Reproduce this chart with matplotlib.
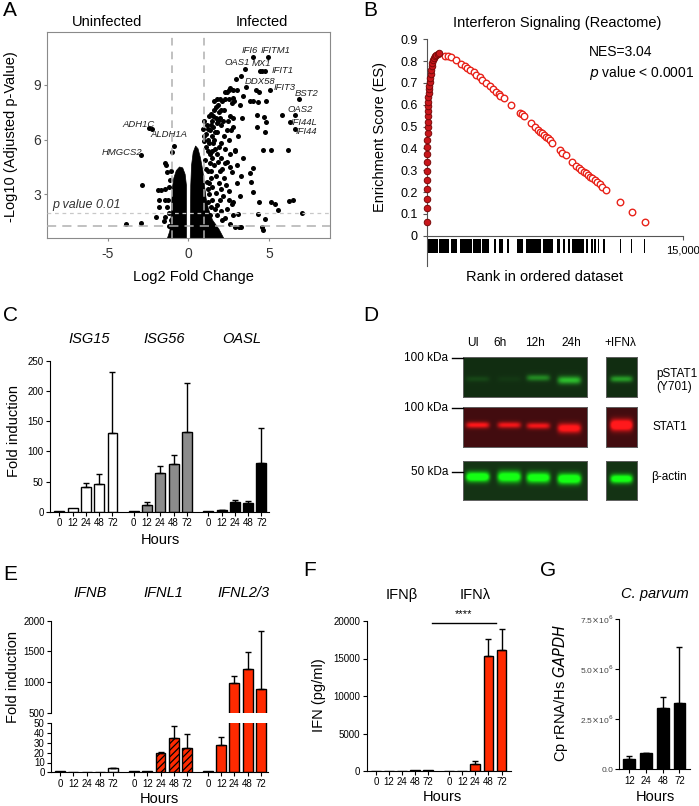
import numpy as np
import matplotlib.pyplot as plt
from matplotlib.lines import Line2D

plt.rcParams['font.family'] = ['Liberation Sans', 'DejaVu Sans']
plt.rcParams['axes.unicode_minus'] = False
plt.rcParams['hatch.linewidth'] = 0.9

# ---------------- data ----------------
# A: volcano plot (dense cores drawn as outlines, the rest as points)
core_right = [(0.12, 0.6), (0.15, 3.5), (0.2, 4.6), (0.3, 5.3), (0.45, 5.65), (0.6, 5.5), (0.75, 5.0),
              (0.9, 4.3), (1.0, 3.5), (1.1, 2.8), (1.25, 2.2), (1.5, 1.6), (1.9, 1.1), (2.2, 0.6)]
core_left = [(-0.12, 0.6), (-0.12, 3.5), (-0.2, 4.1), (-0.35, 4.45), (-0.55, 4.5), (-0.75, 4.3),
             (-0.9, 3.9), (-1.0, 3.3), (-1.05, 2.0), (-1.15, 1.0), (-1.3, 0.6)]
up_pts = [(1.0, 5.9), (1.1, 6.3), (1.15, 6.8), (1.3, 7.3), (1.4, 7.4), (1.2, 6.6), (1.5, 7.0), (1.6, 7.6),
          (1.7, 7.8), (1.8, 8.2), (1.95, 8.2), (2.1, 8.1), (2.3, 8.2), (2.4, 8.6), (2.5, 8.7), (2.6, 8.8),
          (2.75, 8.7), (2.8, 8.3), (2.85, 8.1), (2.3, 8.6), (2.2, 7.6), (1.9, 7.5), (1.7, 7.2), (1.55, 6.7),
          (1.45, 6.2), (1.3, 5.8), (1.2, 5.4), (1.6, 6.0), (1.8, 6.4), (2.0, 6.8), (2.15, 7.0), (1.9, 5.6),
          (1.75, 5.2), (1.5, 5.0), (1.35, 4.7), (1.25, 4.3), (1.6, 4.6), (2.0, 5.0), (2.3, 5.5), (2.5, 6.0),
          (2.2, 6.2), (1.4, 3.9), (1.7, 4.0), (2.1, 4.4), (2.4, 4.8), (1.5, 3.4), (1.9, 3.6), (2.2, 3.9),
          (1.3, 3.0), (1.7, 3.1), (2.0, 3.3), (1.2, 2.6), (1.5, 2.7), (1.8, 2.4), (2.5, 3.2), (2.4, 2.2),
          (2.1, 1.6), (2.3, 1.7), (2.6, 1.4), (2.9, 1.2), (2.8, 2.6), (3.2, 2.9), (2.7, 4.2), (3.0, 4.6),
          (2.9, 5.4), (3.1, 6.2), (2.8, 6.7), (2.6, 7.3), (2.5, 8.2), (2.7, 8.0), (3.0, 8.7),
          (1.05, 4.9), (1.1, 4.4), (1.15, 3.7), (1.2, 3.3), (1.3, 3.6), (1.4, 4.3), (1.45, 5.4), (1.35, 5.2),
          (1.25, 6.0), (1.1, 5.6), (1.65, 5.5), (1.55, 5.8), (1.65, 6.4), (1.75, 6.9), (1.85, 7.0),
          (1.95, 7.2), (2.05, 7.6), (1.85, 7.9), (1.6, 8.1), (1.55, 7.3), (1.4, 6.8), (1.35, 6.5),
          (1.85, 4.8), (1.95, 4.3), (2.25, 4.7), (2.6, 5.2), (2.6, 4.5), (2.35, 3.5), (2.15, 2.9),
          (1.95, 2.7), (1.65, 2.2), (1.4, 2.3), (1.35, 1.9), (1.75, 1.9), (2.0, 2.1), (2.75, 1.9),
          (2.55, 2.7), (3.0, 3.6), (3.3, 4.0), (3.4, 5.0), (3.2, 7.9), (3.4, 8.4), (2.45, 7.0), (2.65, 6.5),
          (2.05, 5.8), (2.4, 6.5), (1.0, 7.0), (0.95, 6.2), (0.9, 6.6),
          (2.96, 9.33), (3.25, 9.5), (3.5, 9.86), (4.04, 10.52), (4.95, 10.52), (4.47, 9.77), (4.76, 9.77),
          (4.6, 9.77), (3.6, 8.87), (4.2, 8.7), (4.4, 8.6), (5.07, 8.73), (3.85, 8.1), (4.0, 8.1), (4.3, 8.08),
          (4.8, 8.1), (6.85, 8.21), (2.75, 7.17), (3.33, 7.17), (4.26, 7.35), (4.72, 7.26), (4.82, 6.98),
          (5.82, 7.35), (6.65, 7.37), (6.31, 6.98), (6.65, 6.58), (4.24, 6.67), (4.74, 6.40), (6.19, 5.43),
          (4.62, 5.43), (5.16, 5.43), (2.92, 5.43), (4.04, 4.42), (3.83, 4.15), (3.89, 3.69), (4.04, 3.12),
          (4.37, 2.59), (5.13, 2.59), (5.40, 2.46), (5.57, 2.17), (6.27, 2.64), (6.48, 2.68), (7.06, 2.00),
          (4.31, 1.95), (4.76, 1.67), (3.06, 1.95), (2.71, 2.50), (3.17, 1.22), (4.58, 1.22), (4.62, 1.05),
          (3.3, 1.2)]
down_pts = [(-0.87, 5.67), (-1.01, 5.3), (-1.43, 4.73), (-1.39, 4.6), (-1.35, 4.24), (-1.9, 3.23),
            (-1.7, 3.25), (-1.43, 3.27), (-1.84, 2.72), (-1.43, 2.69), (-1.8, 2.3), (-1.35, 2.3),
            (-2.0, 1.76), (-1.43, 1.76), (-1.5, 1.54), (-1.22, 1.3), (-1.15, 3.8), (-1.2, 2.0),
            (-1.1, 4.3), (-1.2, 3.4), (-1.25, 2.7), (-1.1, 1.6),
            (-2.42, 6.66), (-2.26, 6.60), (-2.96, 5.17), (-2.88, 3.49), (-3.87, 1.40), (-2.96, 1.44)]
gene_names = ['IFI6', 'IFITM1', 'OAS1', 'MX1', 'IFIT1', 'DDX58', 'IFIT3', 'BST2', 'OAS2', 'IFI44L',
              'IFI44', 'ADH1C', 'ALDH1A', 'HMGCS2']
gene_lx = [3.83, 5.40, 3.02, 4.55, 5.86, 4.47, 5.96, 7.35, 6.96, 7.2, 7.35, -3.11, -1.18, -4.14]
gene_ly = [10.87, 10.87, 10.23, 10.14, 9.79, 9.15, 8.85, 8.5, 7.66, 6.93, 6.42, 6.84, 6.29, 5.28]

# B: GSEA running enrichment score
es_fill_rank = [0, 20, 20, 20, 20, 20, 20, 20, 20, 20, 39, 39, 39, 59, 59, 59, 78, 78, 98, 117, 137,
                156, 176, 215, 234, 273, 312, 352, 410, 469, 547, 644, 703]
es_fill_val = [0.064, 0.125, 0.168, 0.212, 0.255, 0.298, 0.336, 0.374, 0.408, 0.439, 0.469, 0.497,
               0.523, 0.549, 0.572, 0.594, 0.614, 0.634, 0.653, 0.671, 0.686, 0.706, 0.721, 0.741,
               0.759, 0.778, 0.793, 0.805, 0.816, 0.824, 0.830, 0.834, 0.836]
es_open_rank = [1035, 1230, 1426, 1680, 2012, 2207, 2344, 2539, 2734, 2890, 3086, 3242, 3437, 3672,
                3867, 4062, 4218, 4297, 4492, 4941, 5468, 5586, 5664, 6113, 6308, 6503, 6601, 6757,
                6875, 6992, 7109, 7187, 7343, 7812, 7929, 8125, 8515, 8750, 8906, 9042, 9179, 9335,
                9433, 9570, 9687, 9824, 9960, 10117, 10273, 10507, 11327, 12030, 12753]
es_open_val = [0.825, 0.824, 0.821, 0.805, 0.787, 0.779, 0.770, 0.759, 0.749, 0.738, 0.726, 0.714,
               0.701, 0.686, 0.672, 0.660, 0.649, 0.642, 0.630, 0.597, 0.564, 0.556, 0.549, 0.515,
               0.500, 0.484, 0.477, 0.469, 0.461, 0.454, 0.446, 0.439, 0.423, 0.393, 0.380, 0.370,
               0.339, 0.321, 0.312, 0.301, 0.293, 0.286, 0.278, 0.270, 0.263, 0.255, 0.248, 0.235,
               0.225, 0.209, 0.153, 0.107, 0.064]
rug_start = [0, 720, 1420, 1650, 1950, 2700, 3250, 3900, 4200, 4700, 5300, 5800, 6800, 7600,
             7950, 8250, 8500, 9300, 9600, 9800, 10000, 10300, 11280, 11950, 12720]
rug_width = [660, 580, 260, 130, 700, 450, 400, 150, 250, 100, 350, 900, 600, 200,
             150, 150, 700, 150, 100, 100, 100, 150, 70, 70, 80]

# C: ISG fold induction
hours = ['0', '12', '24', '48', '72']
isg15_mean = [1, 6, 41, 46, 130]
isg15_sd = [0, 0, 6, 16, 101]
isg56_mean = [1, 11, 65, 79, 133]
isg56_sd = [0, 5, 11, 15, 80]
oasl_mean = [1, 2, 15.5, 14, 80]
oasl_sd = [0, 0.8, 4, 3, 59]

# D: western blot band intensities (UI, 6h, 12h, 24h) and +IFN lambda lane
pstat1_int = [0.12, 0.05, 0.45, 0.7]
pstat1_ifn = 0.55
stat1_int = [0.8, 0.75, 0.75, 0.95]
stat1_ifn = 1.2
actin_int = [1.2, 1.1, 1.1, 1.2]
actin_ifn = 1.1

# E: IFN transcripts
ifnb_mean = [1, 0.5, 0.5, 0.8, 4]
ifnb_sd = [0, 0, 0, 0, 0.5]
ifnl1_mean = [1, 1, 20, 34.7, 24.5]
ifnl1_sd = [0, 0, 1.2, 13, 14.5]
ifnl23_mean = [1, 27.9, 979, 1207, 881]
ifnl23_sd = [0, 8.5, 124, 278, 956]

# F: secreted IFN (pg/ml)
ifnb_pg = [0, 0, 0, 150, 150]
ifnb_pg_sd = [0, 0, 0, 0, 0]
ifnl_pg = [50, 0, 930, 15370, 16130]
ifnl_pg_sd = [0, 0, 360, 2190, 2760]

# G: C. parvum load
cp_hours = ['12', '24', '48', '72']
cp_mean = [0.5e6, 0.8e6, 3.08e6, 3.3e6]
cp_sd = [0.17e6, 0.03e6, 0.52e6, 2.83e6]

RED = '#ff2a00'

# ---------------- figure ----------------
W, H = 699, 806
fig = plt.figure(figsize=(W / 100, H / 100), dpi=100)


def px_axes(l, t, r, b):
    return fig.add_axes([l / W, 1 - b / H, (r - l) / W, (b - t) / H])


def ptext(x, y, s, **kw):
    kw.setdefault('ha', 'center')
    kw.setdefault('va', 'center')
    fig.text(x / W, 1 - y / H, s, **kw)


def bars(ax, x0, vals, sds, color, hatch=None, width=0.75):
    xs = [x0 + i for i in range(len(vals))]
    ax.bar(xs, vals, width=width, color=color, edgecolor='black', lw=1, hatch=hatch, zorder=2)
    ex = [x for x, s in zip(xs, sds) if s > 0]
    ev = [v for v, s in zip(vals, sds) if s > 0]
    es = [s for s in sds if s > 0]
    if ex:
        ax.errorbar(ex, ev, yerr=[[0] * len(es), es], fmt='none', ecolor='black',
                    elinewidth=1, capsize=2.5, capthick=1, zorder=3)
    return xs


def simple_axes(ax):
    ax.spines['top'].set_visible(False)
    ax.spines['right'].set_visible(False)
    ax.tick_params(labelsize=7, length=3, width=0.8, pad=1.5)


# ---- A ----
ax = px_axes(46.7, 31.7, 330, 238.3)
ax.fill(*zip(*core_left), color='black', lw=0.5, zorder=2)
ax.fill(*zip(*core_right), color='black', lw=0.5, zorder=2)
ax.scatter(*zip(*up_pts), s=13, c='black', lw=0, zorder=3)
ax.scatter(*zip(*down_pts), s=13, c='black', lw=0, zorder=3)
for xv in (-1, 1):
    ax.axvline(xv, color='#b0b0b0', ls=(0, (5, 4)), lw=1.1, zorder=4)
ax.axhline(2, color='#c8c8c8', ls=(0, (3, 3)), lw=0.9, zorder=4)
ax.axhline(1.3, color='#b0b0b0', ls=(0, (6, 4)), lw=1.1, zorder=4)
for n, gx, gy in zip(gene_names, gene_lx, gene_ly):
    ax.text(gx, gy, n, fontsize=6.8, style='italic', color='#222222', ha='center', va='center')
ax.text(-8.45, 2.12, 'p value 0.01', fontsize=9, style='italic', color='#333333', va='bottom')
ax.set_xlim(-8.8, 8.8)
ax.set_ylim(0.6, 11.9)
ax.set_xticks([-5, 0, 5])
ax.set_yticks([3, 6, 9])
for s in ax.spines.values():
    s.set_color('#8a8a8a')
ax.tick_params(colors='#8a8a8a', labelcolor='#333333', labelsize=10, length=2.5)
ax.tick_params(axis='x', pad=4)
ax.tick_params(axis='y', pad=1.5)
ptext(107, 22, 'Uninfected', fontsize=10.5)
ptext(262, 22, 'Infected', fontsize=10.5)
ptext(193, 277, 'Log2 Fold Change', fontsize=10.5)
ptext(11, 137, '-Log10 (Adjusted p-Value)', fontsize=10.5, rotation=90)

# ---- B ----
ax = px_axes(427, 39.3, 683, 266.2)
ax.set_xlim(0, 15000)
ax.set_ylim(-0.14, 0.9)
ax.broken_barh(list(zip(rug_start, rug_width)), (-0.081, 0.064), facecolors='black')
ax.scatter(es_open_rank, es_open_val, s=22, facecolor='white', edgecolor='#e8231a', lw=1, zorder=3)
ax.scatter(es_fill_rank, es_fill_val, s=22, facecolor='#c8161b', edgecolor='#7a0a0a', lw=0.7,
           zorder=4, clip_on=False)
ax.spines['top'].set_visible(False)
ax.spines['right'].set_visible(False)
ax.spines['bottom'].set_position(('data', 0))
ax.spines['bottom'].set_color('#555555')
ax.spines['left'].set_color('#555555')
ax.set_yticks([0, 0.1, 0.2, 0.3, 0.4, 0.5, 0.6, 0.7, 0.8, 0.9],
              ['0', '0.1', '0.2', '0.3', '0.4', '0.5', '0.6', '0.7', '0.8', '0.9'])
ax.set_xticks([15000], ['15,000'])
ax.tick_params(labelsize=9, length=3, color='#555555')
ax.tick_params(axis='x', labelsize=8, pad=4)
ptext(557, 22.5, 'Interferon Signaling (Reactome)', fontsize=10.5)
ptext(589, 52, 'NES=3.04', fontsize=10, ha='left')
ptext(589, 73, '$p$ value < 0.0001', fontsize=10, ha='left')
ptext(545, 277, 'Rank in ordered dataset', fontsize=10.5)
ptext(380, 137, 'Enrichment Score (ES)', fontsize=10.5, rotation=90)

# ---- C ----
ax = px_axes(50, 361, 269, 511.7)
ticks, labels = [], []
for g, (m, sd, col) in enumerate([(isg15_mean, isg15_sd, 'white'), (isg56_mean, isg56_sd, '#8c8c8c'),
                                  (oasl_mean, oasl_sd, 'black')]):
    ticks += bars(ax, g * 5.6, m, sd, col)
    labels += hours
ax.set_xlim(-0.7, 15.77)
ax.set_ylim(0, 250)
ax.set_xticks(ticks, labels)
ax.set_yticks([0, 50, 100, 150, 200, 250])
simple_axes(ax)
ptext(89, 339, 'ISG15', fontsize=10.5, style='italic')
ptext(164, 339, 'ISG56', fontsize=10.5, style='italic')
ptext(242, 339, 'OASL', fontsize=10.5, style='italic')
ptext(14, 431, 'Fold induction', fontsize=10.5, rotation=90)
ptext(160, 540, 'Hours', fontsize=10.5)

# ---- D ----
def blot(l, t, r, b, centers, ys, hs, ints, half, bg, glow):
    bax = px_axes(l, t, r, b)
    yy = np.linspace(0, 1, 80)[:, None]
    xx = np.linspace(0, 1, 240)[None, :]
    sig = np.zeros((80, 240))
    for c, y0, hh, a in zip(centers, ys, hs, ints):
        sig += a * np.exp(-((yy - y0) / hh) ** 2) * np.exp(-((xx - c) / half) ** 6)
    img = np.array(bg)[None, None, :] + np.clip(sig, 0, 1)[..., None] * np.array(glow)[None, None, :]
    bax.imshow(np.clip(img, 0, 1), aspect='auto', interpolation='bilinear')
    bax.set_xticks([])
    bax.set_yticks([])
    for s in bax.spines.values():
        s.set_color('#606060')
        s.set_linewidth(0.7)


lanes = [0.117, 0.373, 0.608, 0.859]
green_bg, green_glow = (0.07, 0.18, 0.07), (0.15, 0.8, 0.15)
red_bg, red_glow = (0.26, 0.05, 0.06), (0.95, 0.05, 0.05)
act_bg, act_glow = (0.08, 0.2, 0.08), (0.0, 0.95, 0.0)
blot(463.3, 356.7, 586.7, 396.7, lanes, [0.55, 0.55, 0.52, 0.58], [0.07, 0.07, 0.08, 0.1],
     pstat1_int, 0.095, green_bg, green_glow)
blot(606, 356.7, 636.7, 396.7, [0.5], [0.55], [0.08], [pstat1_ifn], 0.36, green_bg, green_glow)
blot(463.3, 407.3, 586.7, 446.7, lanes, [0.45, 0.45, 0.47, 0.53], [0.08, 0.08, 0.08, 0.12],
     stat1_int, 0.095, red_bg, red_glow)
blot(606, 407.3, 636.7, 446.7, [0.5], [0.45], [0.14], [stat1_ifn], 0.36, red_bg, red_glow)
blot(463.3, 460.7, 586.7, 500, lanes, [0.42, 0.42, 0.44, 0.47], [0.12, 0.14, 0.13, 0.13],
     actin_int, 0.095, act_bg, act_glow)
blot(606, 460.7, 636.7, 500, [0.5], [0.47], [0.11], [actin_ifn], 0.36, act_bg, act_glow)
for lx, ln in zip([473, 500, 535, 571.7, 620], ['UI', '6h', '12h', '24h', '+IFNλ']):
    ptext(lx, 343, ln, fontsize=8.5)
for ky, kl in zip([357.5, 408.3, 471.7], ['100 kDa', '100 kDa', '50 kDa']):
    ptext(448, ky, kl, fontsize=8.5, ha='right')
    fig.add_artist(Line2D([451.7 / W, 463.3 / W], [1 - ky / H, 1 - ky / H], color='black', lw=1))
ptext(656.7, 374, 'pSTAT1', fontsize=8.5, ha='left')
ptext(656.7, 387, '(Y701)', fontsize=8.5, ha='left')
ptext(670, 426.5, 'STAT1', fontsize=8.5)
ptext(669, 477, 'β-actin', fontsize=8.5)

# ---- E (broken axis) ----
lo = px_axes(51, 723.3, 268.3, 772.3)
hi = px_axes(51, 620.7, 268.3, 712.7)
groups = [(ifnb_mean, ifnb_sd, 'white', None), (ifnl1_mean, ifnl1_sd, RED, '/////'),
          (ifnl23_mean, ifnl23_sd, RED, None)]
ticks, labels = [], []
for g, (m, sd, col, hat) in enumerate(groups):
    ticks += bars(lo, g * 5.6, m, sd, col, hatch=hat)
    bars(hi, g * 5.6, m, sd, col, hatch=hat)
    labels += hours
for a in (lo, hi):
    a.set_xlim(-0.7, 15.77)
    simple_axes(a)
lo.set_ylim(0, 50)
lo.set_yticks([0, 10, 20, 30, 40, 50])
lo.set_xticks(ticks, labels)
hi.set_ylim(500, 2000)
hi.set_yticks([500, 1000, 1500, 2000])
hi.spines['bottom'].set_visible(False)
hi.set_xticks([])
ptext(90, 593, 'IFNB', fontsize=10.5, style='italic')
ptext(163, 593, 'IFNL1', fontsize=10.5, style='italic')
ptext(243, 593, 'IFNL2/3', fontsize=10.5, style='italic')
ptext(13, 677, 'Fold induction', fontsize=10.5, rotation=90)
ptext(159, 799, 'Hours', fontsize=10.5)

# ---- F ----
ax = px_axes(366.7, 621, 510.7, 771)
ticks = bars(ax, 0, ifnb_pg, ifnb_pg_sd, RED) + bars(ax, 5.6, ifnl_pg, ifnl_pg_sd, RED)
ax.set_xlim(-0.7, 10.3)
ax.set_ylim(0, 20000)
ax.set_xticks(ticks, hours + hours)
ax.set_yticks([0, 5000, 10000, 15000, 20000])
simple_axes(ax)
ax.plot([4.25, 9.2], [19800, 19800], color='black', lw=1, clip_on=False)
ax.text(6.7, 20300, '****', ha='center', va='bottom', fontsize=8)
ptext(402, 595, 'IFNβ', fontsize=10.5)
ptext(475, 595, 'IFNλ', fontsize=10.5)
ptext(319, 695, 'IFN (pg/ml)', fontsize=10.5, rotation=90)
ptext(442, 797, 'Hours', fontsize=10.5)

# ---- G ----
ax = px_axes(619.3, 619.3, 690, 769.3)
ticks = bars(ax, 0, cp_mean, cp_sd, 'black', width=0.7)
ax.set_xlim(-0.6, 3.63)
ax.set_ylim(0, 7.5e6)
ax.set_xticks(ticks, cp_hours)
ax.set_yticks([0, 2.5e6, 5.0e6, 7.5e6],
              ['0.0', r'2.5$\times$10$^6$', r'5.0$\times$10$^6$', r'7.5$\times$10$^6$'])
simple_axes(ax)
ax.tick_params(axis='y', labelsize=6, labelcolor='#444444')
ptext(655, 594, 'C. parvum', fontsize=10.5, style='italic')
ptext(561, 693, r'Cp rRNA/Hs $\it{GAPDH}$', fontsize=10.5, rotation=90)
ptext(655, 797, 'Hours', fontsize=10.5)

# panel letters
for lx, ly, let in [(3, 11, 'A'), (363, 11, 'B'), (3, 316, 'C'), (363, 316, 'D'),
                    (3, 575, 'E'), (303, 570, 'F'), (540, 570, 'G')]:
    ptext(lx, ly, let, fontsize=15, ha='left')

fig.savefig('out.png', dpi=100)
